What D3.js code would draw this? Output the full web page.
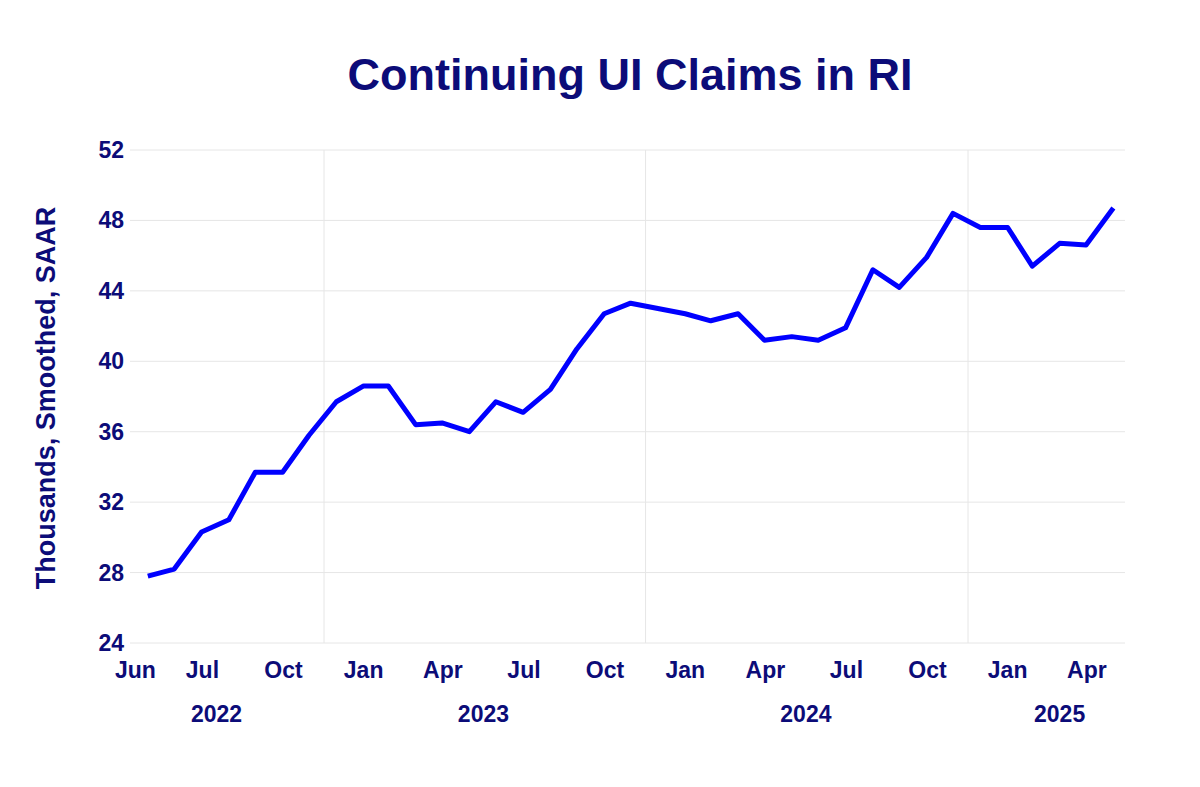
<!DOCTYPE html>
<html><head><meta charset="utf-8">
<script src="https://cdn.jsdelivr.net/npm/d3@7"></script>
<style>body{margin:0;background:#fff}text{font-family:"Liberation Sans",Arial,sans-serif;font-weight:bold;fill:#0c0c78}</style>
</head><body><svg id="c" width="1200" height="787"></svg>
<script>
const startMonth = "2022-06";
const values = [27.8,28.2,30.3,31.0,33.7,33.7,35.8,37.7,38.6,38.6,36.4,36.5,36.0,37.7,37.1,38.4,40.7,42.7,43.3,43.0,42.7,42.3,42.7,41.2,41.4,41.2,41.9,45.2,44.2,45.9,48.4,47.6,47.6,45.4,46.7,46.6,48.7];
const yTicks = [24,28,32,36,40,44,48,52];
const monthTicks = [["2022-06-01","Jun"],["2022-08-16","Jul"],["2022-11-16","Oct"],["2023-02-15","Jan"],["2023-05-16","Apr"],["2023-08-16","Jul"],["2023-11-16","Oct"],["2024-02-15","Jan"],["2024-05-16","Apr"],["2024-08-16","Jul"],["2024-11-16","Oct"],["2025-02-15","Jan"],["2025-05-16","Apr"]];
const yearTicks = [["2022-09-01","2022"],["2023-07-01","2023"],["2024-07-01","2024"],["2025-04-15","2025"]];
const yearLines = ["2023-01-01","2024-01-01","2025-01-01"];

const svg = d3.select("#c");
const P = d3.timeParse("%Y-%m-%d");
const x = d3.scaleTime().domain([P("2023-01-01"),P("2025-01-01")]).range([324,968]);
const y = d3.scaleLinear().domain([24,52]).range([643,150]);
const L=130,R=1125;
const s0 = P(startMonth+"-01");
const data = values.map((v,i)=>({d:d3.timeDay.offset(d3.timeMonth.offset(s0,i),14),v}));

svg.append("g").selectAll("line").data(yTicks).join("line")
 .attr("x1",L).attr("x2",R).attr("y1",d=>y(d)).attr("y2",d=>y(d)).attr("stroke","#e6e6e6");
svg.append("g").selectAll("line").data(yearLines).join("line")
 .attr("x1",d=>x(P(d))).attr("x2",d=>x(P(d))).attr("y1",150).attr("y2",643).attr("stroke","#e6e6e6");
svg.append("g").selectAll("text").data(yTicks).join("text")
 .attr("x",124).attr("y",d=>y(d)+8).attr("text-anchor","end").attr("font-size",23).text(d=>d);
svg.append("g").selectAll("text").data(monthTicks).join("text")
 .attr("x",d=>x(P(d[0]))).attr("y",678).attr("text-anchor","middle").attr("font-size",23).text(d=>d[1]);
svg.append("g").selectAll("text").data(yearTicks).join("text")
 .attr("x",d=>x(P(d[0]))).attr("y",722).attr("text-anchor","middle").attr("font-size",23).text(d=>d[1]);
svg.append("path").datum(data).attr("fill","none").attr("stroke","#0000ff").attr("stroke-width",5).attr("stroke-linejoin","round")
 .attr("d",d3.line().x(d=>x(d.d)).y(d=>y(d.v)));
svg.append("text").attr("x",630).attr("y",90).attr("text-anchor","middle").attr("font-size",45).text("Continuing UI Claims in RI");
svg.append("text").attr("transform","translate(55,398) rotate(-90)").attr("text-anchor","middle").attr("font-size",27).text("Thousands, Smoothed, SAAR");
</script></body></html>
